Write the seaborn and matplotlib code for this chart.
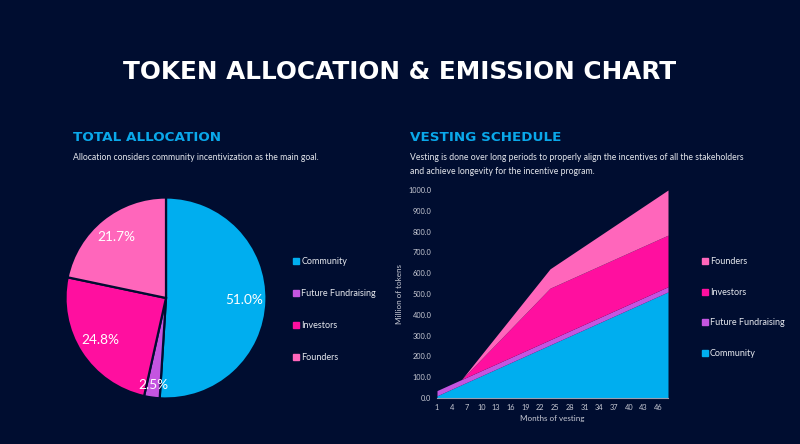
import matplotlib
matplotlib.use("Agg")
import matplotlib.pyplot as plt
from matplotlib.lines import Line2D
import seaborn as sns

# ---- data ----
categories = ["Community", "Future Fundraising", "Investors", "Founders"]
shares = [51.0, 2.5, 24.8, 21.7]

months = [1, 6, 24, 48]
community = [10.6, 64, 255, 510]
future_fundraising = [25, 25, 25, 25]
investors = [0, 0, 248, 248]
founders = [0, 0, 93, 217]

x_ticks = list(range(1, 47, 3))
y_ticks = list(range(0, 1001, 100))

# ---- style ----
BG = "#000d30"
colors = ["#00aeef", "#c455e0", "#ff0f9f", "#ff66bb"]
CYAN = "#0aa8ea"
TXT = "#e6e8ee"

sns.set_theme(style="dark", rc={"axes.facecolor": BG, "figure.facecolor": BG})
plt.rcParams["font.family"] = ["Lato", "DejaVu Sans"]

fig = plt.figure(figsize=(8, 4.44), dpi=100)
fig.patch.set_facecolor(BG)

W, H = 800, 444

# titles
fig.text(0.5, 1 - 72 / H, "TOKEN ALLOCATION & EMISSION CHART", ha="center", va="center",
         color="white", fontsize=17.8, fontweight="heavy", family="DejaVu Sans")
fig.text(73 / W, 1 - 137 / H, "TOTAL ALLOCATION", ha="left", va="center",
         color=CYAN, fontsize=9.7, fontweight="bold", family="DejaVu Sans")
fig.text(410 / W, 1 - 137 / H, "VESTING SCHEDULE", ha="left", va="center",
         color=CYAN, fontsize=9.7, fontweight="bold", family="DejaVu Sans")
fig.text(73 / W, 1 - 158 / H, "Allocation considers community incentivization as the main goal.",
         ha="left", va="center", color=TXT, fontsize=6.2)
fig.text(410 / W, 1 - 158 / H,
         "Vesting is done over long periods to properly align the incentives of all the stakeholders",
         ha="left", va="center", color=TXT, fontsize=6.2)
fig.text(410 / W, 1 - 171 / H, "and achieve longevity for the incentive program.",
         ha="left", va="center", color=TXT, fontsize=6.2)

# ---- pie ----
cx, cy, r = 166, 298, 101
ax_pie = fig.add_axes([(cx - r) / W, 1 - (cy + r) / H, 2 * r / W, 2 * r / H])
ax_pie.set_facecolor(BG)
wedges, texts, autotexts = ax_pie.pie(
    shares, colors=colors, startangle=90, counterclock=False,
    autopct="%.1f%%", pctdistance=0.78,
    wedgeprops=dict(edgecolor=BG, linewidth=1.6),
    textprops=dict(color="white", fontsize=9.8))
# move the small slice label outwards a little
t = autotexts[1]
px, py = t.get_position()
t.set_position((px * 0.87 / 0.78, py * 0.87 / 0.78))
ax_pie.set_xlim(-1.005, 1.005)
ax_pie.set_ylim(-1.005, 1.005)
ax_pie.set_aspect("equal")
ax_pie.axis("off")

def sq_handles(cols):
    return [Line2D([0], [0], marker="s", linestyle="none", markersize=4,
                   markerfacecolor=c, markeredgecolor=c) for c in cols]

leg1 = fig.legend(sq_handles(colors), categories, loc="upper left",
                  bbox_to_anchor=(293 / W, 1 - 257 / H), frameon=False,
                  fontsize=6.5, labelcolor=TXT, handlelength=0.6, handletextpad=0.3,
                  labelspacing=2.55, borderaxespad=0, borderpad=0)

# ---- area chart ----
ax = fig.add_axes([437 / W, 1 - 398 / H, 231 / W, 208 / H])
ax.set_facecolor(BG)
ax.stackplot(months, community, future_fundraising, investors, founders,
             colors=colors, linewidth=0)
ax.set_xlim(1, 48)
ax.set_ylim(0, 1000)
ax.set_xticks(x_ticks)
ax.set_yticks(y_ticks)
ax.set_yticklabels([f"{v:.1f}" for v in y_ticks])
ax.tick_params(axis="both", colors="#c8cad4", labelsize=5.3, length=0, pad=4)
ax.grid(False)
for s in ["top", "right", "left"]:
    ax.spines[s].set_visible(False)
ax.spines["bottom"].set_visible(True)
ax.spines["bottom"].set_color("#9a9db0")
ax.spines["bottom"].set_linewidth(0.8)
ax.set_xlabel("Months of vesting", color="#c8cad4", fontsize=5.8, labelpad=3)
ax.set_ylabel("Million of tokens", color="#c8cad4", fontsize=5.8, labelpad=4)

order = [3, 2, 1, 0]
leg2 = fig.legend(sq_handles([colors[i] for i in order]), [categories[i] for i in order],
                  loc="upper left", bbox_to_anchor=(702 / W, 1 - 257 / H), frameon=False,
                  fontsize=6.5, labelcolor=TXT, handlelength=0.6, handletextpad=0.3,
                  labelspacing=2.4, borderaxespad=0, borderpad=0)

fig.savefig("out.png", dpi=100, facecolor=BG)
